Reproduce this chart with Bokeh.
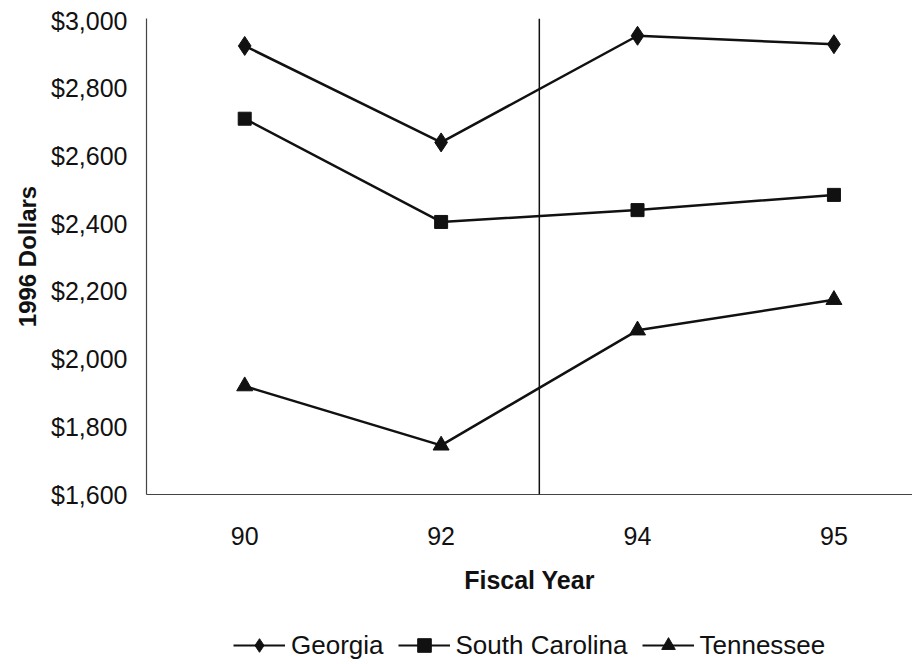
from bokeh.plotting import figure
from bokeh.layouts import column
from bokeh.models import Range1d, FixedTicker, Legend, LegendItem, Span
from bokeh.embed import file_html
from bokeh.resources import INLINE

years = ["90", "92", "94", "95"]
georgia = [2925, 2640, 2955, 2930]
south_carolina = [2710, 2405, 2440, 2485]
tennessee = [1920, 1745, 2085, 2175]
y_ticks = [1600, 1800, 2000, 2200, 2400, 2600, 2800, 3000]
divider_between = ("92", "94")

xs = [i + 0.5 for i in range(len(years))]

FONT = "Liberation Sans"
INK = "#111111"

p = figure(width=912, height=623, output_backend="svg", toolbar_location=None,
           x_range=Range1d(0, 3.90), y_range=Range1d(1600, 3006),
           min_border_left=146, min_border_right=0, min_border_top=18,
           min_border_bottom=129)
p.outline_line_color = None
p.background_fill_color = "white"
p.border_fill_color = "white"
p.grid.visible = False

# axes
p.xaxis.ticker = FixedTicker(ticks=xs)
p.xaxis.major_label_overrides = {x: y for x, y in zip(xs, years)}
p.yaxis.ticker = FixedTicker(ticks=y_ticks)
p.yaxis.major_label_overrides = {v: "${:,}".format(v) for v in y_ticks}
for ax in (p.xaxis, p.yaxis):
    ax.major_tick_line_color = None
    ax.minor_tick_line_color = None
    ax.axis_line_color = "#444444"
    ax.axis_line_width = 1.2
    ax.major_label_text_font = FONT
    ax.major_label_text_font_size = "25px"
    ax.major_label_text_color = INK
    ax.axis_label_text_font = FONT
    ax.axis_label_text_font_style = "bold"
    ax.axis_label_text_color = INK
p.xaxis.axis_label_text_font_size = "25px"
p.yaxis.axis_label_text_font_size = "24px"
p.xaxis.axis_label = "Fiscal Year"
p.yaxis.axis_label = "1996 Dollars"
p.xaxis.major_label_standoff = 26
p.xaxis.axis_label_standoff = 18
p.yaxis.major_label_standoff = 13
p.yaxis.axis_label_standoff = 7

# divider line between fiscal 92 and 94
div_x = (xs[years.index(divider_between[0])] + xs[years.index(divider_between[1])]) / 2
p.add_layout(Span(location=div_x, dimension="height", line_color=INK, line_width=1.5))

# legend lives in its own strip below the chart; its proxy glyphs draw the
# same series but outside the strip's visible range
lg = figure(width=912, height=40, output_backend="svg", toolbar_location=None,
            x_range=Range1d(100, 101), y_range=Range1d(0, 1),
            min_border_left=0, min_border_right=0, min_border_top=0,
            min_border_bottom=0)
lg.axis.visible = False
lg.grid.visible = False
lg.outline_line_color = None
lg.border_fill_color = "white"

items = []
series = [
    ("Georgia", georgia, "diamond", 19),
    ("South Carolina", south_carolina, "square", 13),
    ("Tennessee", tennessee, "triangle", 16),
]
for name, vals, marker, size in series:
    p.line(xs, vals, line_color=INK, line_width=2.5)
    p.scatter(xs, vals, marker=marker, size=size, fill_color=INK, line_color=INK)
    ln = lg.line(xs, vals, line_color=INK, line_width=2.2)
    sc = lg.scatter(xs, vals, marker=marker, size=size, fill_color=INK, line_color=INK)
    items.append(LegendItem(label=name, renderers=[ln, sc]))

legend = Legend(items=items, orientation="horizontal", location=(87, 1),
                label_text_font=FONT, label_text_font_size="26px",
                label_text_color=INK, border_line_color=None,
                background_fill_alpha=0, glyph_width=52, glyph_height=34,
                spacing=14, label_standoff=6, padding=0, margin=0)
lg.add_layout(legend, "center")

layout = column(p, lg, spacing=0)
open("out.html", "w").write(file_html(layout, INLINE))
